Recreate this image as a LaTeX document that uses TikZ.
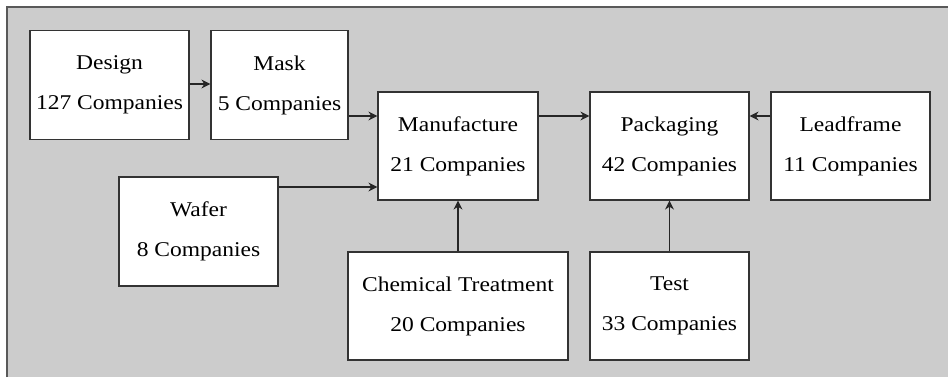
\documentclass[tikz,border=0pt]{standalone}
\usepackage{fontspec}
\setmainfont[FakeStretch=1.12]{Liberation Serif}
\usetikzlibrary{arrows.meta}
\begin{document}
\begin{tikzpicture}[x=0.5pt,y=-0.5pt,
  box/.style={draw=black!80,line width=0.6pt,fill=white,align=center,
    font={\fontsize{10.5}{20}\selectfont},inner sep=0pt},
  conn/.style={draw=black!85,line width=0.55pt,-{Stealth[length=4.5pt,width=4.5pt]}}]
\useasboundingbox (0,0) rectangle (948,377);
\fill[black!20] (7,7) rectangle (948,377);
\draw[black!65,line width=1pt] (7,377) -- (7,7) -- (948,7);
\node[box,minimum width=79.5pt,minimum height=54.5pt] (design) at (109.5,85) {Design\\127 Companies};
\node[box,minimum width=68.5pt,minimum height=54.5pt] (mask) at (279.5,85) {Mask\\5 Companies};
\node[box,minimum width=80pt,minimum height=54pt] (manuf) at (458,146) {Manufacture\\21 Companies};
\node[box,minimum width=79.5pt,minimum height=54pt] (pack) at (669.5,146) {Packaging\\42 Companies};
\node[box,minimum width=79.5pt,minimum height=54pt] (lead) at (850.5,146) {Leadframe\\11 Companies};
\node[box,minimum width=79.5pt,minimum height=54.5pt] (wafer) at (198.5,231.5) {Wafer\\8 Companies};
\node[box,minimum width=110pt,minimum height=54pt] (chem) at (458,306) {Chemical Treatment\\20 Companies};
\node[box,minimum width=79.5pt,minimum height=54pt] (test) at (669.5,306) {Test\\33 Companies};
\draw[conn] (design.east |- 0,84) -- (mask.west |- 0,84);
\draw[conn] (mask.east |- 0,116) -- (manuf.west |- 0,116);
\draw[conn] (wafer.east |- 0,187) -- (manuf.west |- 0,187);
\draw[conn] (manuf.east |- 0,116) -- (pack.west |- 0,116);
\draw[conn] (lead.west |- 0,116) -- (pack.east |- 0,116);
\draw[conn] (chem.north) -- (manuf.south);
\draw[conn] (test.north) -- (pack.south);
\end{tikzpicture}
\end{document}
